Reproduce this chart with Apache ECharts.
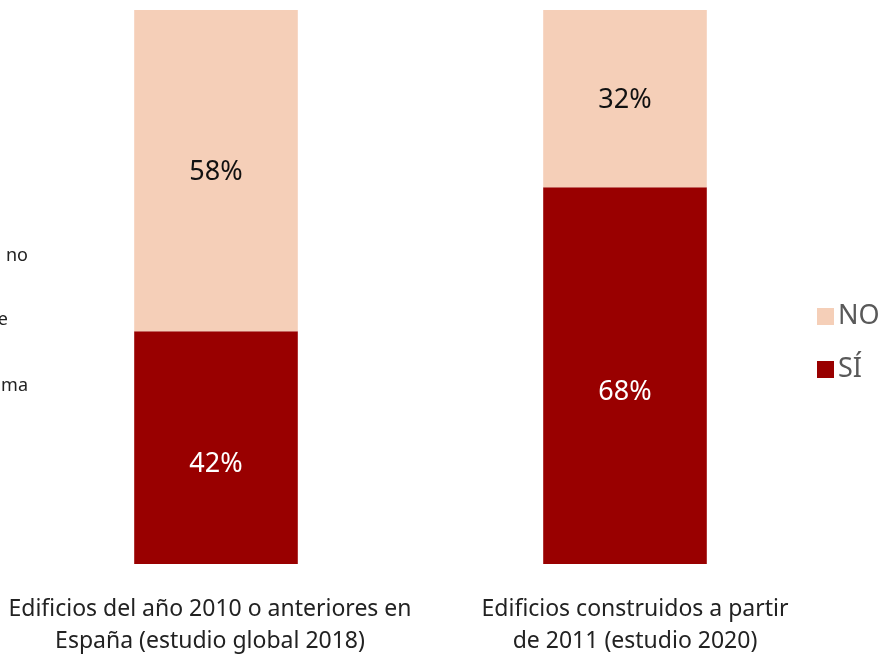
<!DOCTYPE html>
<html><head><meta charset="utf-8">
<script src="https://cdn.jsdelivr.net/npm/echarts@6/dist/echarts.min.js"></script>
<style>html,body{margin:0;padding:0;background:#fff;overflow:hidden}#c{width:887px;height:657px}</style>
</head><body><div id="c"></div>
<script>
const categories = ['Edificios del año 2010 o anteriores en\nEspaña (estudio global 2018)', 'Edificios construidos a partir\nde 2011 (estudio 2020)'];
const siValues = [42, 68];
const noValues = [58, 32];
const seriesNames = ['SÍ', 'NO'];
const sideFragments = ['no', 'e', 'ma'];

const chart = echarts.init(document.getElementById('c'));
const font = '"Noto Sans", "Open Sans", sans-serif';
const labStyle = {color: '#222', fontSize: 23, fontFamily: font, lineHeight: 32};
chart.setOption({
  animation: false,
  grid: {left: 11.5, width: 818, top: 10, height: 558.5, containLabel: false},
  xAxis: {
    type: 'category', data: categories,
    axisLine: {show: false}, axisTick: {show: false},
    axisLabel: {interval: 0, margin: 29, color: '#222', fontSize: 23, fontFamily: font, lineHeight: 32,
      formatter: (v, i) => v.split('\n').map(l => '{' + (i === 0 ? 'a' : 'b') + '|' + l + '}').join('\n'),
      rich: {
        a: Object.assign({padding: [0, 12, 0, 0]}, labStyle),
        b: Object.assign({padding: [0, 0, 0, 20]}, labStyle)
      }}
  },
  yAxis: {type: 'value', min: 0, max: 100, show: false, splitLine: {show: false}},
  legend: {
    orient: 'vertical', left: 812, top: 298, itemGap: 26,
    itemWidth: 17, itemHeight: 17, icon: 'rect',
    data: ['NO', 'SÍ'],
    textStyle: {color: '#595959', fontSize: 27, fontFamily: font, padding: [0,0,0,-1]}
  },
  series: [
    {name: seriesNames[0], type: 'bar', stack: 't', data: siValues, barWidth: '40%',
     itemStyle: {color: '#990000'},
     label: {show: true, position: 'inside', offset: [0, 17], formatter: '{c}%', color: '#fff', fontSize: 27, fontFamily: font}},
    {name: seriesNames[1], type: 'bar', stack: 't', data: noValues, barWidth: '40%',
     itemStyle: {color: '#F5CFB8'},
     label: {show: true, position: 'inside', offset: [0, 2], formatter: '{c}%', color: '#111', fontSize: 27, fontFamily: font}}
  ],
  graphic: sideFragments.map((t, i) => ({
    type: 'text', right: 887 - [28, 8, 28][i], top: [247, 311, 377][i],
    style: {text: t, fill: '#222', font: '18px ' + font, textAlign: 'right'}
  }))
});
</script></body></html>
